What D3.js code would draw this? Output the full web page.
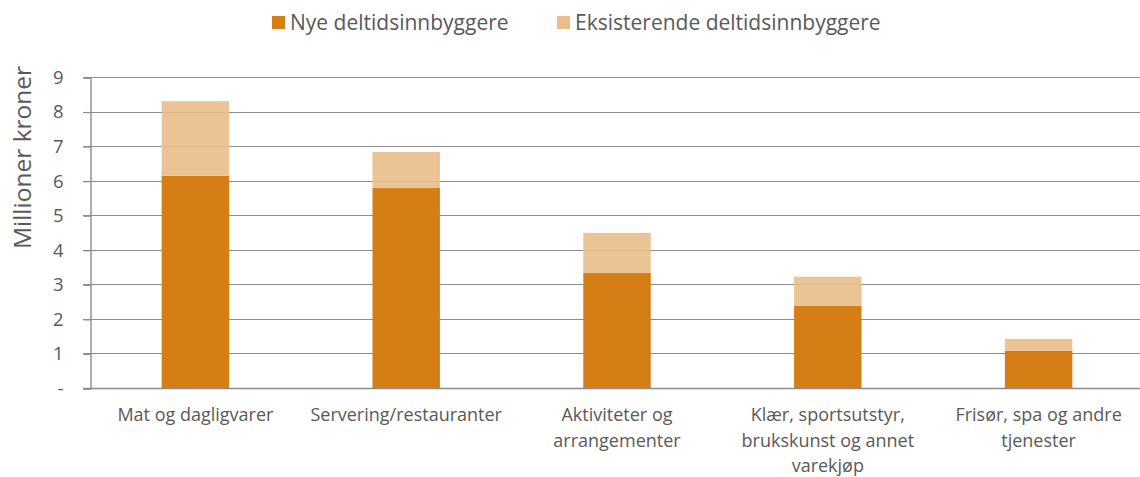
<!DOCTYPE html>
<html>
<head>
<meta charset="utf-8">
<script src="https://cdn.jsdelivr.net/npm/d3@7/dist/d3.min.js"></script>
<style>
  html, body { margin: 0; padding: 0; background: #fff; }
  svg { display: block; font-family: "Open Sans", "Noto Sans", sans-serif; }
</style>
</head>
<body>
<svg id="chart" width="1140" height="477"></svg>
<script>
// Spending by category, million NOK
const categories = [
  "Mat og dagligvarer",
  "Servering/restauranter",
  "Aktiviteter og arrangementer",
  "Klær, sportsutstyr, brukskunst og annet varekjøp",
  "Frisør, spa og andre tjenester"
];
const categoryLines = [
  ["Mat og dagligvarer"],
  ["Servering/restauranter"],
  ["Aktiviteter og", "arrangementer"],
  ["Klær, sportsutstyr,", "brukskunst og annet", "varekjøp"],
  ["Frisør, spa og andre", "tjenester"]
];
const seriesNames = ["Nye deltidsinnbyggere", "Eksisterende deltidsinnbyggere"];
const nyeValues = [6.14, 5.79, 3.33, 2.38, 1.08];
const eksisterendeValues = [2.16, 1.04, 1.16, 0.84, 0.34];
const yTicks = [0, 1, 2, 3, 4, 5, 6, 7, 8, 9];
const yTickLabels = ["-", "1", "2", "3", "4", "5", "6", "7", "8", "9"];
const yTitle = "Millioner kroner";

const colors = ["#D67E16", "#E9BE8A"];
const textColor = "#595959";
const gridColor = "#8C8C8C";

const svg = d3.select("#chart");
const margin = { left: 90, right: -4, top: 77, bottom: 89 };
const W = 1140, H = 477;

const x = d3.scaleBand()
  .domain(categories)
  .range([margin.left, W - margin.right])
  .paddingInner(0.68)
  .paddingOuter(0.34);

const y = d3.scaleLinear()
  .domain([0, 9])
  .range([H - margin.bottom, margin.top]);

// stacked data
const rows = categories.map((c, i) => ({ cat: c, nye: nyeValues[i], eks: eksisterendeValues[i] }));
const stack = d3.stack().keys(["nye", "eks"]);
const layers = stack(rows);

// horizontal gridlines (under the opaque bars)
const grid = svg.append("g");
grid.selectAll("line").data(yTicks.filter(d => d > 0)).join("line")
  .attr("x1", margin.left - 7).attr("x2", W)
  .attr("y1", d => Math.round(y(d)) + 0.5).attr("y2", d => Math.round(y(d)) + 0.5)
  .attr("stroke", gridColor).attr("stroke-width", 1.2);

// bars
const barsG = svg.append("g");
layers.forEach((layer, li) => {
  barsG.append("g")
    .attr("fill", colors[li])
    .attr("fill-opacity", li === 1 ? 0.9 : 1)
    .selectAll("rect").data(layer).join("rect")
    .attr("x", d => x(d.data.cat))
    .attr("width", x.bandwidth())
    .attr("y", d => y(d[1]))
    .attr("height", d => y(d[0]) - y(d[1]));
});

// baseline and vertical axis
const axisG = svg.append("g");
axisG.append("line")
  .attr("x1", margin.left - 7).attr("x2", W)
  .attr("y1", Math.round(y(0)) + 0.5).attr("y2", Math.round(y(0)) + 0.5)
  .attr("stroke", gridColor).attr("stroke-width", 1.4);

const yAxis = d3.axisLeft(y)
  .tickValues(yTicks)
  .tickFormat((d, i) => yTickLabels[i])
  .tickSize(7)
  .tickPadding(20);
const yg = svg.append("g")
  .attr("transform", `translate(${margin.left + 0.5},0.5)`)
  .call(yAxis);
yg.select(".domain").attr("stroke", gridColor).attr("stroke-width", 1.4);
yg.selectAll(".tick line").attr("stroke", gridColor).attr("stroke-width", 1.2);
yg.selectAll(".tick text")
  .attr("fill", textColor)
  .style("font-size", "18.5px")
  .style("font-family", "'Open Sans', sans-serif");

// y title
svg.append("text")
  .attr("transform", `translate(31,${(y(0) + y(9)) / 2 - 75}) rotate(-90)`)
  .attr("text-anchor", "middle")
  .attr("fill", textColor)
  .style("font-size", "24.5px")
  .text(yTitle);

// category labels
const labG = svg.append("g");
categories.forEach((c, i) => {
  const t = labG.append("text")
    .attr("text-anchor", "middle")
    .attr("fill", textColor)
    .style("font-size", "18px");
  categoryLines[i].forEach((ln, j) => {
    t.append("tspan")
      .attr("x", x(c) + x.bandwidth() / 2)
      .attr("y", 421 + j * 25.5)
      .text(ln);
  });
});

// legend
const legend = svg.append("g").style("font-size", "21px");
const legendItems = [
  { name: seriesNames[0], color: colors[0], x: 272 },
  { name: seriesNames[1], color: colors[1], x: 557 }
];
legendItems.forEach(it => {
  legend.append("rect")
    .attr("x", it.x).attr("y", 16).attr("width", 13).attr("height", 13)
    .attr("fill", it.color);
  legend.append("text")
    .attr("x", it.x + 18).attr("y", 30)
    .attr("fill", textColor)
    .text(it.name);
});
</script>
</body>
</html>
